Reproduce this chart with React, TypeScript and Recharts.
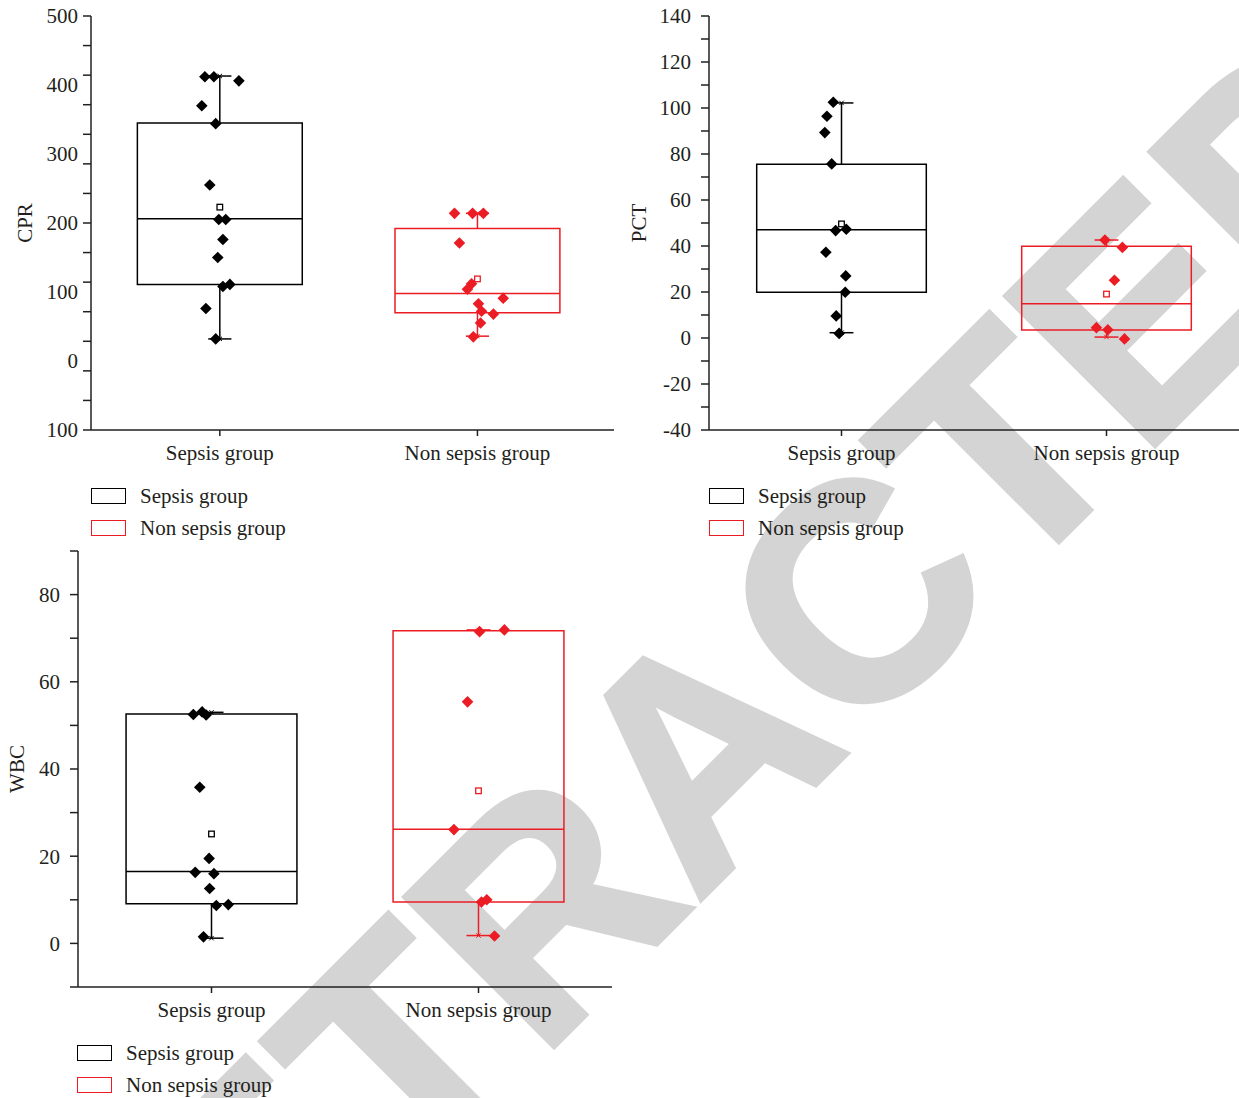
import React from 'react';
import { ComposedChart, Scatter, XAxis, YAxis, ReferenceArea, ReferenceLine } from 'recharts';

const groups = ['Sepsis group', 'Non sepsis group'];
const groupColors = ['#000000', '#ec1c24'];

// CPR panel
const cprSepsis = [412, 412, 406, 370, 344, 255, 205, 205, 176, 150, 108, 111, 76, 32];
const cprSepsisJitter = [-0.058, -0.023, 0.074, -0.07, -0.016, -0.039, -0.004, 0.023, 0.012, -0.008, 0.012, 0.039, -0.054, -0.016];
const cprNonSepsis = [214, 214, 214, 171, 112, 104, 91, 83, 72, 68, 55, 35];
const cprNonSepsisJitter = [-0.089, -0.019, 0.023, -0.07, -0.023, -0.039, 0.1, 0.004, 0.016, 0.062, 0.012, -0.016];
const cprQ1 = [111, 70];
const cprMedian = [206, 98];
const cprQ3 = [345, 192];
const cprMin = [32, 36];
const cprMax = [413, 214];
const cprMean = [223, 119];
const cprTicks = [-100, 0, 100, 200, 300, 400, 500];
const cprTickMarkCount = 15;

// PCT panel
const pctSepsis = [102.5, 96.4, 89.3, 75.7, 46.7, 47.3, 37.3, 27, 19.9, 9.6, 2];
const pctSepsisJitter = [-0.031, -0.055, -0.063, -0.037, -0.022, 0.018, -0.059, 0.016, 0.014, -0.02, -0.009];
const pctNonSepsis = [42.6, 39.4, 25.1, 4.5, 3.6, -0.4];
const pctNonSepsisJitter = [-0.006, 0.06, 0.03, -0.038, 0.005, 0.068];
const pctQ1 = [19.9, 3.5];
const pctMedian = [47.1, 14.9];
const pctQ3 = [75.5, 39.9];
const pctMin = [2.3, 0.4];
const pctMax = [102.2, 42.6];
const pctMean = [49.6, 19.1];
const pctTicks = [-40, -20, 0, 20, 40, 60, 80, 100, 120, 140];
const pctTickMarkCount = 19;

// WBC panel
const wbcSepsis = [52.5, 53.1, 52.4, 35.8, 19.5, 16.3, 16.0, 12.6, 8.7, 8.9, 1.5];
const wbcSepsisJitter = [-0.068, -0.035, -0.02, -0.044, -0.009, -0.061, 0.009, -0.007, 0.018, 0.063, -0.03];
const wbcNonSepsis = [71.5, 71.9, 55.4, 26.1, 9.5, 10.0, 1.7];
const wbcNonSepsisJitter = [0.004, 0.097, -0.041, -0.092, 0.011, 0.031, 0.06];
const wbcQ1 = [9.1, 9.5];
const wbcMedian = [16.5, 26.2];
const wbcQ3 = [52.6, 71.7];
const wbcMin = [1.2, 1.8];
const wbcMax = [53.0, 71.9];
const wbcMean = [25.1, 35.0];
const wbcTicks = [0, 20, 40, 60, 80];
const wbcTickMarkCount = 11;

const FONT = '"Liberation Serif", "Times New Roman", serif';
const TEXT = '#231f20';
const BOX_HALF = 0.32;
const CAP_HALF = 0.045;
const TICK_LEN = 8;

const Diamond = (props: any) => {
  const { cx, cy, fill } = props;
  const r = 5.8;
  return <polygon points={`${cx},${cy - r} ${cx + r},${cy} ${cx},${cy + r} ${cx - r},${cy}`} fill={fill} />;
};

const MeanSquare = (props: any) => {
  const { cx, cy, stroke } = props;
  return <rect x={cx - 2.8} y={cy - 2.8} width={5.6} height={5.6} fill="#fff" stroke={stroke} strokeWidth={1.3} />;
};

const Cross = (props: any) => {
  const { cx, cy, stroke } = props;
  const r = 2.2;
  return (
    <g stroke={stroke} strokeWidth={1}>
      <line x1={cx - r} y1={cy - r} x2={cx + r} y2={cy + r} />
      <line x1={cx - r} y1={cy + r} x2={cx + r} y2={cy - r} />
    </g>
  );
};

const near = (list: number[], v: number) => list.some((l) => Math.abs(l - v) < 1e-6);

interface PanelProps {
  left: number;
  top: number;
  width: number;
  height: number;
  margin: { top: number; right: number; bottom: number; left: number };
  yLabel: string;
  yDomain: [number, number];
  yTicks: number[];
  tickMarkCount: number;
  xDomain: [number, number];
  values: number[][];
  jitter: number[][];
  q1: number[];
  median: number[];
  q3: number[];
  min: number[];
  max: number[];
  mean: number[];
  yAxisWidth: number;
  labelOffset: number;
  tickMargin: number;
  formatTick?: (v: number) => string;
}

const BoxPanel: React.FC<PanelProps> = (p) => {
  const points = p.values.map((vals, g) =>
    vals.map((v, i) => ({ x: g + 1 + p.jitter[g][i], y: v }))
  );

  // evenly spaced tick marks along the axis (they need not sit on the labels)
  const [lo, hi] = p.yDomain;
  const marks = Array.from({ length: p.tickMarkCount }, (_, k) => lo + (k * (hi - lo)) / (p.tickMarkCount - 1));
  const allTicks = [...marks];
  p.yTicks.forEach((t) => { if (!near(allTicks, t)) allTicks.push(t); });
  allTicks.sort((a, b) => a - b);

  const renderYTick = (t: any) => {
    const v = t.payload.value;
    const axisX = t.x + p.tickMargin + TICK_LEN;
    return (
      <g>
        {near(marks, v) && (
          <line x1={axisX - TICK_LEN} x2={axisX} y1={t.y} y2={t.y} stroke={TEXT} strokeWidth={1.5} />
        )}
        {near(p.yTicks, v) && (
          <text x={t.x} y={t.y} dy="0.355em" textAnchor="end" fontSize={21} fill={TEXT} fontFamily={FONT}>
            {p.formatTick ? p.formatTick(v) : String(v)}
          </text>
        )}
      </g>
    );
  };

  return (
    <div style={{ position: 'absolute', left: p.left, top: p.top }}>
      <ComposedChart width={p.width} height={p.height} margin={p.margin}>
        <XAxis
          type="number"
          dataKey="x"
          domain={p.xDomain}
          ticks={[1, 2]}
          interval={0}
          allowDataOverflow
          tickFormatter={(v: number) => groups[v - 1]}
          height={50}
          tickSize={6}
          tickMargin={9}
          stroke={TEXT}
          strokeWidth={1.5}
          tick={{ fontSize: 21, fill: TEXT, fontFamily: FONT }}
        />
        <YAxis
          type="number"
          dataKey="y"
          domain={p.yDomain}
          ticks={allTicks}
          interval={0}
          allowDataOverflow
          width={p.yAxisWidth}
          stroke={TEXT}
          strokeWidth={1.5}
          tickLine={false}
          tickSize={TICK_LEN}
          tickMargin={p.tickMargin}
          tick={renderYTick}
          label={{
            value: p.yLabel,
            angle: -90,
            position: 'insideLeft',
            offset: p.labelOffset,
            style: { textAnchor: 'middle', fontSize: 21, fill: TEXT, fontFamily: FONT },
          }}
        />
        {groups.map((_, g) => {
          const c = g + 1;
          const col = groupColors[g];
          return (
            <React.Fragment key={`box-${g}`}>
              <ReferenceArea
                x1={c - BOX_HALF}
                x2={c + BOX_HALF}
                y1={p.q1[g]}
                y2={p.q3[g]}
                fill="none"
                fillOpacity={0}
                stroke={col}
                strokeWidth={1.5}
              />
              <ReferenceLine segment={[{ x: c - BOX_HALF, y: p.median[g] }, { x: c + BOX_HALF, y: p.median[g] }]} stroke={col} strokeWidth={1.5} />
              <ReferenceLine segment={[{ x: c, y: p.q3[g] }, { x: c, y: p.max[g] }]} stroke={col} strokeWidth={1.5} />
              <ReferenceLine segment={[{ x: c, y: p.q1[g] }, { x: c, y: p.min[g] }]} stroke={col} strokeWidth={1.5} />
              <ReferenceLine segment={[{ x: c - CAP_HALF, y: p.max[g] }, { x: c + CAP_HALF, y: p.max[g] }]} stroke={col} strokeWidth={1.5} />
              <ReferenceLine segment={[{ x: c - CAP_HALF, y: p.min[g] }, { x: c + CAP_HALF, y: p.min[g] }]} stroke={col} strokeWidth={1.5} />
            </React.Fragment>
          );
        })}
        {groups.map((_, g) => (
          <Scatter
            key={`ext-${g}`}
            data={[{ x: g + 1, y: p.min[g] }, { x: g + 1, y: p.max[g] }]}
            shape={(s: any) => <Cross {...s} stroke={groupColors[g]} />}
            isAnimationActive={false}
          />
        ))}
        {groups.map((_, g) => (
          <Scatter
            key={`pts-${g}`}
            data={points[g]}
            fill={groupColors[g]}
            shape={(s: any) => <Diamond {...s} fill={groupColors[g]} />}
            isAnimationActive={false}
          />
        ))}
        {groups.map((_, g) => (
          <Scatter
            key={`mean-${g}`}
            data={[{ x: g + 1, y: p.mean[g] }]}
            shape={(s: any) => <MeanSquare {...s} stroke={groupColors[g]} />}
            isAnimationActive={false}
          />
        ))}
      </ComposedChart>
    </div>
  );
};

const GroupLegend: React.FC<{ left: number; top: number }> = ({ left, top }) => (
  <div style={{ position: 'absolute', left, top, fontFamily: FONT, fontSize: 21, color: TEXT }}>
    {groups.map((name, g) => (
      <div key={name} style={{ display: 'flex', alignItems: 'center', height: 32 }}>
        <div style={{ width: 33, height: 14, border: `1.5px solid ${groupColors[g]}`, marginRight: 14 }} />
        <span style={{ lineHeight: '32px' }}>{name}</span>
      </div>
    ))}
  </div>
);

export default function App() {
  return (
    <div style={{ position: 'absolute', left: 0, top: 0, width: 1239, height: 1098, overflow: 'hidden', background: '#fff' }}>
      <svg width={1239} height={1098} style={{ position: 'absolute', left: 0, top: 0 }}>
        <text
          x={774}
          y={826}
          transform="rotate(-45 774 826)"
          textAnchor="middle"
          fontFamily='"Liberation Sans", Arial, sans-serif'
          fontWeight="bold"
          fontSize={306}
          fill="#d4d4d4"
          stroke="#d4d4d4"
          strokeWidth={6}
          strokeLinejoin="miter"
        >
          RETRACTED
        </text>
      </svg>

      <BoxPanel
        left={0}
        top={0}
        width={640}
        height={480}
        margin={{ top: 16, right: 26, bottom: 0, left: 0 }}
        yLabel="CPR"
        yDomain={[-100, 500]}
        yTicks={cprTicks}
        tickMarkCount={cprTickMarkCount}
        xDomain={[0.5, 2.53]}
        values={[cprSepsis, cprNonSepsis]}
        jitter={[cprSepsisJitter, cprNonSepsisJitter]}
        q1={cprQ1}
        median={cprMedian}
        q3={cprQ3}
        min={cprMin}
        max={cprMax}
        mean={cprMean}
        yAxisWidth={91}
        labelOffset={25}
        tickMargin={5}
        formatTick={(v: number) => String(Math.abs(v))}
      />
      <GroupLegend left={91} top={480} />

      <BoxPanel
        left={620}
        top={0}
        width={619}
        height={480}
        margin={{ top: 16, right: 0, bottom: 0, left: 0 }}
        yLabel="PCT"
        yDomain={[-40, 140]}
        yTicks={pctTicks}
        tickMarkCount={pctTickMarkCount}
        xDomain={[0.5, 2.5]}
        values={[pctSepsis, pctNonSepsis]}
        jitter={[pctSepsisJitter, pctNonSepsisJitter]}
        q1={pctQ1}
        median={pctMedian}
        q3={pctQ3}
        min={pctMin}
        max={pctMax}
        mean={pctMean}
        yAxisWidth={89}
        labelOffset={19}
        tickMargin={10}
      />
      <GroupLegend left={709} top={480} />

      <BoxPanel
        left={0}
        top={540}
        width={640}
        height={497}
        margin={{ top: 11, right: 28, bottom: 0, left: 0 }}
        yLabel="WBC"
        yDomain={[-10, 90]}
        yTicks={wbcTicks}
        tickMarkCount={wbcTickMarkCount}
        xDomain={[0.5, 2.5]}
        values={[wbcSepsis, wbcNonSepsis]}
        jitter={[wbcSepsisJitter, wbcNonSepsisJitter]}
        q1={wbcQ1}
        median={wbcMedian}
        q3={wbcQ3}
        min={wbcMin}
        max={wbcMax}
        mean={wbcMean}
        yAxisWidth={78}
        labelOffset={17}
        tickMargin={10}
      />
      <GroupLegend left={77} top={1037} />
    </div>
  );
}
